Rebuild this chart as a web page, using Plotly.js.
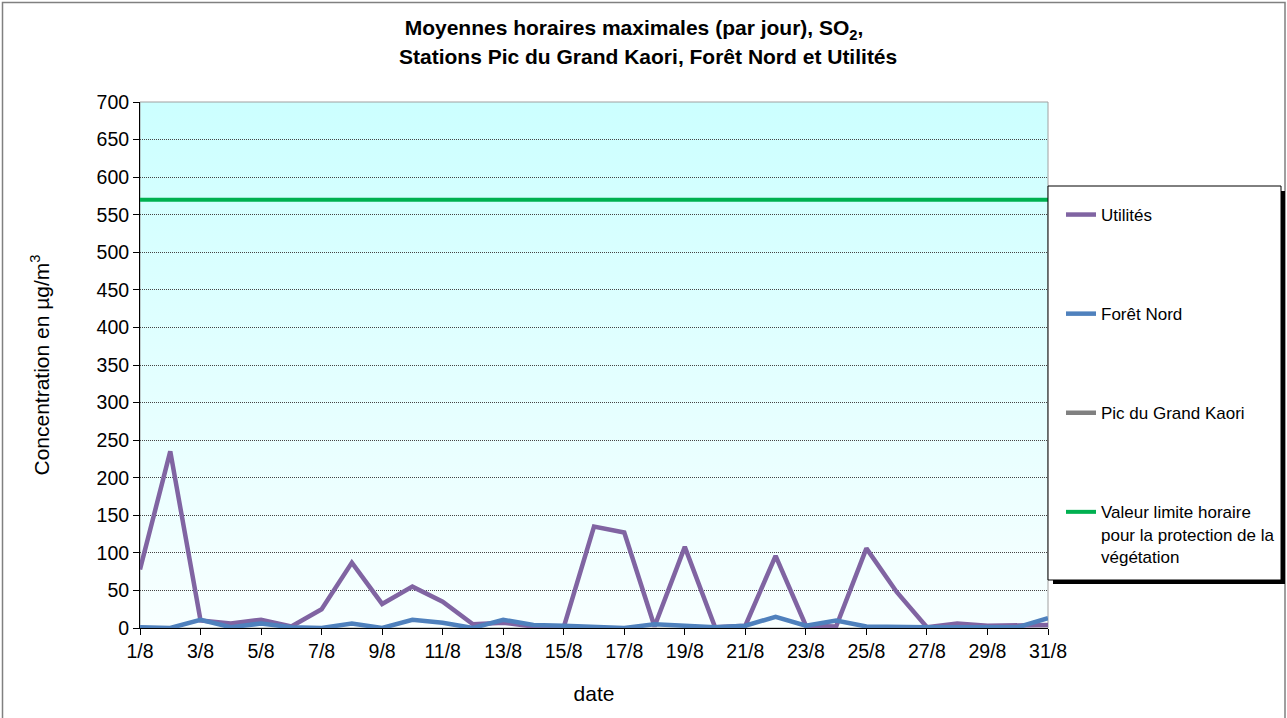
<!DOCTYPE html>
<html>
<head>
<meta charset="utf-8">
<script src="https://cdn.plot.ly/plotly-3.0.1.min.js"></script>
<style>html,body{margin:0;padding:0;background:#fff;}#chart{width:1287px;height:718px;}</style>
</head>
<body>
<div id="chart"></div>
<script>
// ---- data ----
const dates = ['1/8','2/8','3/8','4/8','5/8','6/8','7/8','8/8','9/8','10/8','11/8','12/8','13/8','14/8','15/8','16/8',
  '17/8','18/8','19/8','20/8','21/8','22/8','23/8','24/8','25/8','26/8','27/8','28/8','29/8','30/8','31/8'];
const xTickLabels = ['1/8','3/8','5/8','7/8','9/8','11/8','13/8','15/8','17/8','19/8','21/8','23/8','25/8','27/8','29/8','31/8'];
const utilites = [78,235,10,6,11,2,25,87,32,55,35,5,7,2,1,135,127,2,108,1,3,96,3,2,106,48,1,6,3,3,4];
const foretNord = [1,0,11,1,6,1,0,6,0,11,7,0,11,4,3,1,0,5,3,1,3,15,3,10,2,1,1,1,1,1,13];
const picGrandKaori = dates.map(() => null); // no data shown for this station
const valeurLimite = dates.map(() => 570);
const yTicks = [0,50,100,150,200,250,300,350,400,450,500,550,600,650,700];

// ---- geometry (pixels) ----
const W = 1287, H = 718;
const L = 140, R = 1048, T = 102, B = 628;
const pw = R - L, ph = B - T;
const px = v => (v - L) / pw;
const py = v => (B - v) / ph;

const font = 'Arial, "Liberation Sans", sans-serif';

const traces = [
  {name:'Pic du Grand Kaori', x:dates, y:picGrandKaori, type:'scatter', mode:'lines',
   line:{color:'#808080', width:4.5}, legendgroup:'g3', legendrank:3},
  {name:'Utilités', x:dates, y:utilites, type:'scatter', mode:'lines',
   line:{color:'#8064A2', width:4.5}, legendgroup:'g1', legendrank:1},
  {name:'Forêt Nord', x:dates, y:foretNord, type:'scatter', mode:'lines',
   line:{color:'#4F81BD', width:4.5}, legendgroup:'g2', legendrank:2},
  {name:'Valeur limite horaire<br>pour la protection de la<br>végétation', x:dates, y:valeurLimite, type:'scatter', mode:'lines',
   line:{color:'#00B050', width:4}, legendgroup:'g4', legendrank:4}
];

const svg = '<svg xmlns="http://www.w3.org/2000/svg" width="10" height="100" viewBox="0 0 10 100" preserveAspectRatio="none">'+
  '<defs><linearGradient id="g" x1="0" y1="0" x2="0" y2="1"><stop offset="0" stop-color="#CCFFFF"/><stop offset="1" stop-color="#F8FFFF"/></linearGradient></defs>'+
  '<rect x="0" y="0" width="10" height="100" fill="url(#g)"/></svg>';

const layout = {
  width: W, height: H,
  margin: {l: L, r: W - R, t: T, b: H - B, pad: 0, autoexpand: false},
  paper_bgcolor: '#ffffff',
  plot_bgcolor: 'rgba(0,0,0,0)',
  font: {family: font, color: '#000', size: 16},
  showlegend: true,
  title: {text: '<b>Moyennes horaires maximales (par jour), SO<sub>2</sub>,</b>',
    font: {family: font, size: 21, color: '#000'},
    x: 634 / W, xanchor: 'center', xref: 'container',
    y: 1 - 28 / H, yref: 'container', yanchor: 'middle'},
  annotations: [
    {text: '<b>Stations Pic du Grand Kaori, Forêt Nord et Utilités</b>', xref: 'paper', yref: 'paper',
     x: px(648), y: py(56), xanchor: 'center', yanchor: 'middle', showarrow: false,
     font: {family: font, size: 21, color: '#000'}}
  ],
  xaxis: {
    type: 'category', range: [0, dates.length - 1], autorange: false,
    tickmode: 'array', tickvals: xTickLabels, ticktext: xTickLabels,
    ticks: 'outside', ticklen: 6, tickcolor: '#000', tickwidth: 1,
    showline: true, linecolor: '#000', linewidth: 1,
    showgrid: false, zeroline: false,
    tickfont: {family: font, size: 19.5, color: '#000'},
    title: {text: 'date', font: {family: font, size: 21, color: '#000'}, standoff: 24}
  },
  yaxis: {
    range: [0, 700], autorange: false,
    tickmode: 'array', tickvals: yTicks,
    ticks: 'outside', ticklen: 6, tickcolor: '#000', tickwidth: 1,
    showline: true, linecolor: '#000', linewidth: 1,
    showgrid: true, gridcolor: '#444', gridwidth: 1, griddash: '1px,1px',
    zeroline: false,
    tickfont: {family: font, size: 19.5, color: '#000'},
    title: {text: 'Concentration en µg/m<sup>3</sup>', font: {family: font, size: 21, color: '#000'}, standoff: 41}
  },
  legend: {
    x: px(1061), y: py(197), xanchor: 'left', yanchor: 'top',
    bgcolor: 'rgba(0,0,0,0)', borderwidth: 0,
    traceorder: 'grouped', tracegroupgap: 74, valign: 'top',
    font: {family: font, size: 17, color: '#000'}
  },
  images: [{source: 'data:image/svg+xml;charset=utf-8,' + encodeURIComponent(svg),
    xref: 'paper', yref: 'paper', x: 0, y: 1, sizex: 1, sizey: 1,
    sizing: 'stretch', xanchor: 'left', yanchor: 'top', layer: 'below'}],
  shapes: [
    // outer chart frame
    {type:'rect', xref:'paper', yref:'paper', x0:px(2.5), x1:px(1285), y0:py(725), y1:py(2.5),
     line:{color:'#808080', width:1.5}, fillcolor:'rgba(0,0,0,0)', layer:'below'},
    // plot-area border (top/right gray)
    {type:'rect', xref:'paper', yref:'paper', x0:0, x1:1, y0:0, y1:1,
     line:{color:'#A0A0A0', width:1}, fillcolor:'rgba(0,0,0,0)', layer:'below'},
    // legend shadow
    {type:'rect', xref:'paper', yref:'paper', x0:px(1053), x1:px(1285), y0:py(584), y1:py(191),
     line:{width:0}, fillcolor:'#000', layer:'above'},
    // legend box
    {type:'rect', xref:'paper', yref:'paper', x0:px(1048), x1:px(1281), y0:py(580), y1:py(186),
     line:{color:'#000', width:1}, fillcolor:'#fff', layer:'above'}
  ]
};

Plotly.newPlot('chart', traces, layout, {displayModeBar: false, staticPlot: true});
</script>
</body>
</html>
